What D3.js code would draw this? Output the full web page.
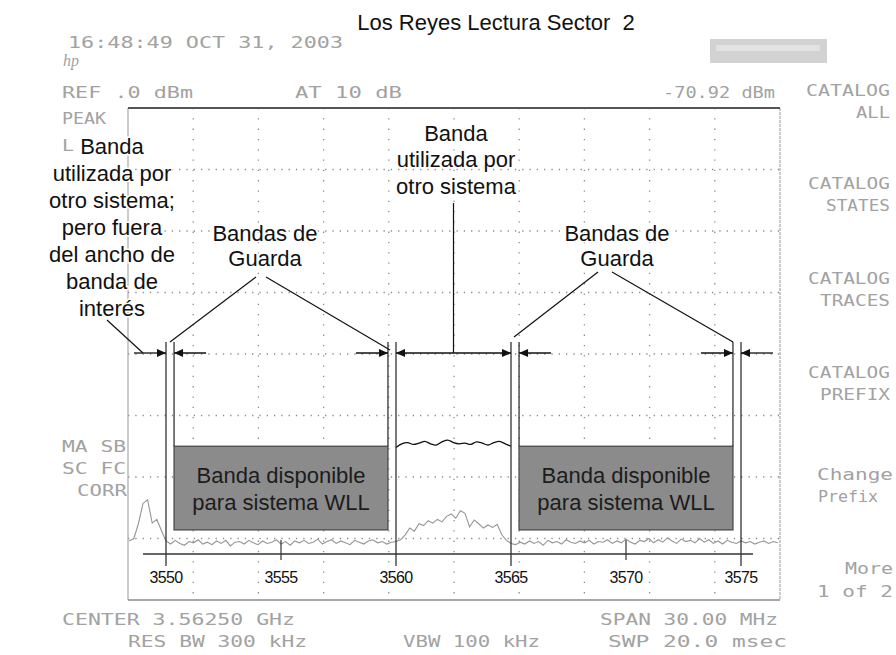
<!DOCTYPE html>
<html>
<head>
<meta charset="utf-8">
<script src="https://cdn.jsdelivr.net/npm/d3@7"></script>
<style>
  body { margin: 0; background: #fff; }
  svg { display: block; }
</style>
</head>
<body>
<svg id="chart" width="896" height="655"></svg>
<script>
const width = 896, height = 655;
const svg = d3.select("#chart");

// ---- data ----
// analyzer sweep, one bin every 0.2 MHz starting at 3548.4 MHz (levels in dBm)
const sweepStart = 3548.4, sweepStep = 0.2;
const traceLevel = [
  -70.4, -70.0, -67.6, -64.3, -63.7, -67.5, -66.9, -68.7, -70.4,
  -70.9, -70.3, -70.8, -71.1, -70.5, -70.7, -70.2, -70.9, -70.6, -71.0,
  -70.4, -70.8, -70.3, -71.2, -70.6, -70.5, -70.9, -70.3, -70.7, -71.0,
  -70.4, -70.8, -70.6, -70.2, -70.9, -70.5, -71.1, -70.4, -70.7, -70.3,
  -70.8, -70.6, -70.1, -70.9, -70.5, -70.2, -70.8, -70.4, -70.7, -71.0,
  -70.3, -70.6, -70.9, -70.4, -70.2, -70.7, -70.5, -70.9, -70.6,
  -70.5, -70.2, -69.4, -68.3, -68.8, -67.6, -67.9, -67.1, -67.5, -66.9,
  -67.3, -66.4, -66.0, -66.7, -65.5, -65.9, -68.1, -67.0, -67.6, -68.3,
  -67.8, -68.2, -67.7, -69.4, -70.3, -70.8,
  -71.0, -70.6, -70.9, -70.4, -70.8, -70.5, -71.1, -70.3, -70.7, -70.5,
  -70.9, -70.2, -70.6, -70.8, -70.4, -70.7, -70.3, -70.9, -70.5, -70.6,
  -70.2, -70.8, -70.4, -70.7, -70.1, -70.6, -70.9, -70.3, -70.5, -70.0,
  -70.7, -70.2, -70.6, -69.9, -70.4, -70.8, -70.1, -70.5, -70.3, -70.7,
  -70.0, -70.6, -70.2, -70.8, -70.4, -70.9, -70.3, -70.6, -70.8, -70.4,
  -70.7, -70.5, -70.9, -70.6, -70.4, -70.8, -70.5, -70.7
];

// occupied band (other system) level, 3560-3565 MHz every 0.25 MHz
const bandFreq = [3560, 3560.25, 3560.5, 3560.75, 3561, 3561.25, 3561.5, 3561.75, 3562, 3562.25,
  3562.5, 3562.75, 3563, 3563.25, 3563.5, 3563.75, 3564, 3564.25, 3564.5, 3564.75, 3565];
const bandLevel = [-55.2, -54.6, -54.4, -54.7, -54.5, -54.2, -54.6, -54.8, -54.3, -54.0,
  -54.4, -54.6, -54.5, -54.7, -54.3, -54.5, -54.8, -54.4, -54.2, -54.6, -55.0];

// annotation frequency axis (MHz)
const tickLabels = [3550, 3555, 3560, 3565, 3570, 3575];
const edgeFreqs = [3550, 3560, 3565, 3575];
const minorTicks = [3555, 3570];
const guardWidth = 0.35;
const freeBands = [[3550.35, 3559.65], [3565.35, 3574.65]];
const freeTop = -55, freeBottom = -68.6;

// ---- scales ----
const x = d3.scaleLinear().domain([3550, 3575]).range([166, 741]);
const y = d3.scaleLinear().domain([0, -80]).range([108, 600]);
const gx = d3.scaleLinear().domain([0, 10]).range([128, 780]);
const gy = d3.scaleLinear().domain([0, 8]).range([108, 600]);

const instr = "#a2a2a2";
const monoFont = "'DejaVu Sans Mono', monospace";
const sansFont = "Arial, 'Liberation Sans', sans-serif";

// arrow heads
const defs = svg.append("defs");
defs.append("marker")
  .attr("id", "head")
  .attr("viewBox", "0 -5 10 10")
  .attr("refX", 10).attr("refY", 0)
  .attr("markerWidth", 10).attr("markerHeight", 9)
  .attr("markerUnits", "userSpaceOnUse")
  .attr("orient", "auto-start-reverse")
  .append("path").attr("d", "M0,-4.5L10,0L0,4.5Z").attr("fill", "#111");

// ---- analyzer screen ----
const grid = svg.append("g");
grid.selectAll("line.v").data(d3.range(1, 10)).enter().append("line")
  .attr("x1", d => gx(d)).attr("x2", d => gx(d))
  .attr("y1", gy(0)).attr("y2", gy(8))
  .attr("stroke", "#8c8c8c").attr("stroke-width", 1.3)
  .attr("stroke-dasharray", "1.3 9");
grid.selectAll("line.h").data(d3.range(1, 8)).enter().append("line")
  .attr("x1", gx(0)).attr("x2", gx(10))
  .attr("y1", d => gy(d)).attr("y2", d => gy(d))
  .attr("stroke", "#8c8c8c").attr("stroke-width", 1.3)
  .attr("stroke-dasharray", "1.3 6");

svg.append("line").attr("x1", gx(0)).attr("x2", gx(0)).attr("y1", gy(0)).attr("y2", gy(8))
  .attr("stroke", "#a8a8a8").attr("stroke-width", 1.2);
svg.append("line").attr("x1", gx(10)).attr("x2", gx(10)).attr("y1", gy(0)).attr("y2", gy(8))
  .attr("stroke", "#a8a8a8").attr("stroke-width", 1.2).attr("stroke-dasharray", "3 1");
svg.append("line").attr("x1", gx(0)).attr("x2", gx(10)).attr("y1", gy(0)).attr("y2", gy(0))
  .attr("stroke", "#555").attr("stroke-width", 2);
svg.append("line").attr("x1", gx(0)).attr("x2", gx(10)).attr("y1", gy(8)).attr("y2", gy(8))
  .attr("stroke", "#888").attr("stroke-width", 1.5);

// measured trace
const trace = traceLevel.map((v, i) => [sweepStart + sweepStep * i, v]);
svg.append("path")
  .datum(trace)
  .attr("fill", "none")
  .attr("stroke", "#959595")
  .attr("stroke-width", 1.1)
  .attr("d", d3.line().x(d => x(d[0])).y(d => y(d[1])));

// instrument labels: text, x, centre y, width, anchor
const instrLabels = [
  ["16:48:49 OCT 31, 2003", 68, 42, 275, "start"],
  ["REF .0 dBm", 62, 92, 131, "start"],
  ["AT 10 dB", 295, 92, 107, "start"],
  ["-70.92 dBm", 663, 92, 112, "start"],
  ["PEAK", 62, 118, 44, "start"],
  ["L", 62, 145, 12, "start"],
  ["MA SB", 62, 446, 64, "start"],
  ["SC FC", 62, 468, 64, "start"],
  ["CORR", 77, 490, 50, "start"],
  ["CENTER 3.56250 GHz", 62, 619, 233, "start"],
  ["RES BW 300 kHz", 128, 641, 179, "start"],
  ["VBW 100 kHz", 403, 641, 137, "start"],
  ["SPAN 30.00 MHz", 600, 619, 178, "start"],
  ["SWP 20.0 msec", 608, 641, 179, "start"],
  ["CATALOG", 890, 90, 84, "end"],
  ["ALL", 890, 112, 34, "end"],
  ["CATALOG", 890, 183, 82, "end"],
  ["STATES", 890, 205, 64, "end"],
  ["CATALOG", 890, 278, 82, "end"],
  ["TRACES", 890, 300, 70, "end"],
  ["CATALOG", 890, 372, 82, "end"],
  ["PREFIX", 890, 394, 70, "end"],
  ["Change", 893, 474, 76, "end"],
  ["Prefix", 878, 496, 60, "end"],
  ["More", 893, 568, 48, "end"],
  ["1 of 2", 893, 591, 76, "end"]
];
svg.append("g").selectAll("text").data(instrLabels).enter().append("text")
  .attr("x", d => d[1]).attr("y", d => d[2] + 6)
  .attr("text-anchor", d => d[4])
  .attr("textLength", d => d[3])
  .attr("lengthAdjust", "spacingAndGlyphs")
  .attr("font-family", monoFont).attr("font-size", 16.5)
  .attr("fill", instr)
  .style("white-space", "pre")
  .text(d => d[0]);

// hp logo and marker readout smudge
svg.append("text").attr("x", 63).attr("y", 66)
  .attr("font-family", "'Liberation Serif', serif").attr("font-style", "italic")
  .attr("font-size", 16).attr("fill", instr).text("hp");
svg.append("rect").attr("x", 710).attr("y", 39).attr("width", 117).attr("height", 24)
  .attr("fill", "#d2d2d2");
svg.append("rect").attr("x", 716).attr("y", 45).attr("width", 104).attr("height", 6)
  .attr("fill", "#e2e2e2");

// ---- annotations ----
// available bands (grey boxes)
const boxes = svg.append("g").selectAll("g").data(freeBands).enter().append("g");
boxes.append("rect")
  .attr("x", d => x(d[0])).attr("width", d => x(d[1]) - x(d[0]))
  .attr("y", y(freeTop)).attr("height", y(freeBottom) - y(freeTop))
  .attr("fill", "#8b8b8b").attr("stroke", "#4a4a4a").attr("stroke-width", 1.3);
boxes.append("text")
  .attr("x", d => (x(d[0]) + x(d[1])) / 2)
  .attr("y", (y(freeTop) + y(freeBottom)) / 2 - 5)
  .attr("text-anchor", "middle")
  .attr("font-family", sansFont).attr("font-size", 22).attr("fill", "#1c1c1c")
  .text("Banda disponible");
boxes.append("text")
  .attr("x", d => (x(d[0]) + x(d[1])) / 2)
  .attr("y", (y(freeTop) + y(freeBottom)) / 2 + 22)
  .attr("text-anchor", "middle")
  .attr("font-family", sansFont).attr("font-size", 22).attr("fill", "#1c1c1c")
  .text("para sistema WLL");

// occupied band level
svg.append("path")
  .datum(bandFreq.map((f, i) => [f, bandLevel[i]]))
  .attr("fill", "none").attr("stroke", "#111").attr("stroke-width", 1.3)
  .attr("d", d3.line().x(d => x(d[0])).y(d => y(d[1])).curve(d3.curveCatmullRom));

// band edge lines and guard lines
const lineTop = 342;
svg.append("g").selectAll("line").data(edgeFreqs).enter().append("line")
  .attr("x1", d => x(d)).attr("x2", d => x(d))
  .attr("y1", lineTop).attr("y2", 566)
  .attr("stroke", "#222").attr("stroke-width", 1.2);
const guardInner = [3550 + guardWidth, 3560 - guardWidth, 3565 + guardWidth, 3575 - guardWidth];
svg.append("g").selectAll("line").data(guardInner).enter().append("line")
  .attr("x1", d => x(d)).attr("x2", d => x(d))
  .attr("y1", lineTop).attr("y2", y(freeTop))
  .attr("stroke", "#222").attr("stroke-width", 1.2);

// annotation frequency axis
const axisY = 554;
svg.append("line").attr("x1", 143).attr("x2", 753).attr("y1", axisY).attr("y2", axisY)
  .attr("stroke", "#333").attr("stroke-width", 1.6);
svg.append("g").selectAll("line").data(minorTicks).enter().append("line")
  .attr("x1", d => x(d)).attr("x2", d => x(d))
  .attr("y1", 540).attr("y2", 560)
  .attr("stroke", "#333").attr("stroke-width", 1.2);
svg.append("g").selectAll("text").data(tickLabels).enter().append("text")
  .attr("x", d => x(d)).attr("y", 583)
  .attr("text-anchor", "middle")
  .attr("font-family", sansFont).attr("font-size", 16).attr("letter-spacing", -0.6)
  .attr("fill", "#111")
  .text(d => d);

// guard-band arrows
const arrowY = 353, arrowLen = 32;
const arrows = [
  [x(3550) - arrowLen, x(3550)],
  [x(3550 + guardWidth) + arrowLen, x(3550 + guardWidth)],
  [x(3560 - guardWidth) - arrowLen, x(3560 - guardWidth)],
  [x(3565 + guardWidth) + arrowLen, x(3565 + guardWidth)],
  [x(3575 - guardWidth) - arrowLen, x(3575 - guardWidth)],
  [x(3575) + arrowLen, x(3575)]
];
svg.append("g").selectAll("line").data(arrows).enter().append("line")
  .attr("x1", d => d[0]).attr("x2", d => d[1])
  .attr("y1", arrowY).attr("y2", arrowY)
  .attr("stroke", "#111").attr("stroke-width", 1.3)
  .attr("marker-end", "url(#head)");
svg.append("line")
  .attr("x1", x(3560)).attr("x2", x(3565)).attr("y1", arrowY).attr("y2", arrowY)
  .attr("stroke", "#111").attr("stroke-width", 1.3)
  .attr("marker-start", "url(#head)").attr("marker-end", "url(#head)");

// leader lines
const leaders = [
  [107, 320, 143, arrowY],
  [256, 277, 170, 342],
  [266, 277, 390, 350],
  [(x(3560) + x(3565)) / 2, 203, (x(3560) + x(3565)) / 2, arrowY],
  [598, 272, 514, 337],
  [612, 272, 733, 342]
];
svg.append("g").selectAll("line").data(leaders).enter().append("line")
  .attr("x1", d => d[0]).attr("y1", d => d[1])
  .attr("x2", d => d[2]).attr("y2", d => d[3])
  .attr("stroke", "#111").attr("stroke-width", 1.2);

// callout texts
function callout(lines, cx, cy, step) {
  svg.append("g").selectAll("text").data(lines).enter().append("text")
    .attr("x", cx).attr("y", (d, i) => cy + i * step + 7.5)
    .attr("text-anchor", "middle")
    .attr("font-family", sansFont).attr("font-size", 22)
    .attr("fill", "#111")
    .attr("stroke", "#fff").attr("stroke-width", 3).attr("paint-order", "stroke")
    .text(d => d);
}
callout(["Banda", "utilizada por", "otro sistema;", "pero fuera", "del ancho de", "banda de", "interés"], 112, 146, 27);
callout(["Banda", "utilizada por", "otro sistema"], 456, 133, 26.5);
callout(["Bandas de", "Guarda"], 265, 233, 25);
callout(["Bandas de", "Guarda"], 617, 233, 25);

// title
svg.append("text")
  .attr("x", 496).attr("y", 30)
  .attr("text-anchor", "middle")
  .attr("font-family", sansFont).attr("font-size", 22)
  .attr("fill", "#111")
  .style("white-space", "pre")
  .text("Los Reyes Lectura Sector  2");
</script>
</body>
</html>
